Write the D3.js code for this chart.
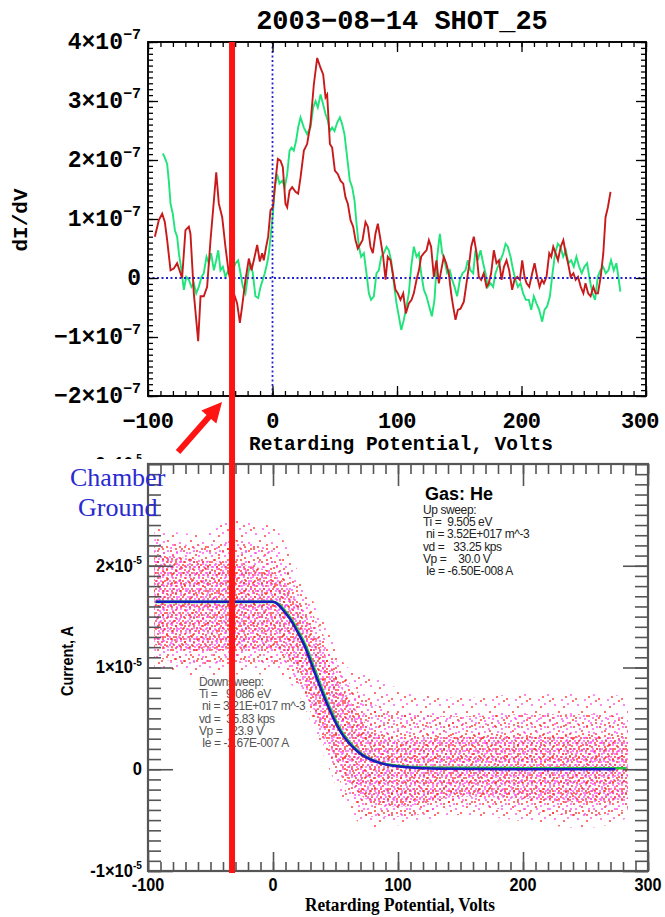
<!DOCTYPE html>
<html>
<head>
<meta charset="utf-8">
<script src="https://cdn.jsdelivr.net/npm/d3@7"></script>
<style>
  body { margin: 0; background: #fff; }
  text { white-space: pre; }
</style>
</head>
<body>
<div class="chart"></div>
<script>
var svgWidth = 665;
var svgHeight = 917;

// ---- top panel: dI/dV (units of 1e-7) vs retarding potential (V) ----
var redTrace = [
  [-94.5,0.70],[-91.3,0.98],[-88.6,1.09],[-86.5,0.95],[-84.6,0.64],[-81.9,0.13],[-79.3,0.16],[-76.6,0.25],
  [-73.9,0.08],[-72.6,0.0],[-69.9,0.81],[-67.2,0.87],[-65.9,0.75],[-63.2,-0.26],[-59.7,-1.07],[-57.8,-0.31],
  [-55.2,-0.31],[-52.5,-0.15],[-49.8,0.64],[-47.1,1.31],[-45.2,1.79],[-43.1,1.26],[-40.4,1.03],[-37.8,0.53],
  [-35.1,0.08],[-31.1,-0.26],[-28.4,-0.43],[-26.2,-0.76],[-24.4,-0.48],[-21.7,-0.03],[-19.0,0.33],[-16.9,0.13],
  [-15.0,0.30],[-12.3,0.56],[-10.2,0.28],[-8.3,0.42],[-7.0,0.30],[-5.1,0.53],[-3.5,0.70],[-1.6,1.15],
  [0.3,1.20],[2.4,1.65],[4.3,2.02],[6.4,1.99],[8.3,1.88],[10.4,1.26],[11.8,1.20],[13.7,1.48],
  [15.8,1.54],[18.5,1.46],[20.6,1.43],[22.5,1.70],[25.2,2.16],[27.8,2.27],[30.5,2.61],[33.2,3.28],
  [35.9,3.73],[38.6,3.56],[40.7,3.45],[42.6,3.06],[43.9,3.11],[46.1,2.27],[47.9,2.21],[50.1,1.82],
  [52.5,1.76],[54.6,1.65],[56.8,1.60],[58.6,1.37],[60.5,1.26],[62.7,0.98],[64.8,0.87],[66.7,0.64],
  [68.5,0.50],[70.1,0.56],[72.3,0.64],[74.7,0.95],[76.6,0.87],[78.7,0.53],[80.6,0.42],[82.7,0.75],
  [84.6,0.92],[86.8,0.64],[88.9,0.36],[90.8,-0.03],[92.6,0.36],[94.8,0.30],[96.6,0.08],[98.8,-0.20],
  [100.7,-0.26],[102.8,-0.37],[105.0,-0.26],[107.1,-0.60],[109.5,-0.43],[111.7,-0.37],[113.5,-0.26],[115.7,-0.03],
  [117.6,0.13],[119.4,0.36],[121.6,0.42],[123.7,0.47],[125.6,0.64],[127.4,0.53],[129.6,0.02],[131.7,0.30],
  [133.6,-0.09],[135.5,0.13],[137.6,0.36],[139.5,0.25],[141.6,0.08],[143.5,-0.26],[145.1,-0.48],[147.0,-0.71],
  [148.9,-0.54],[151.0,-0.52],[153.7,-0.40],[155.8,-0.09],[157.7,0.19],[159.6,0.53],[161.7,0.70],[163.9,0.42],
  [165.7,0.02],[167.6,-0.03],[169.7,0.08],[171.9,-0.15],[173.7,-0.09],[175.6,0.08],[177.8,0.47],[179.9,0.25],
  [181.9,0.30],[184.0,-0.03],[185.9,0.19],[188.0,0.30],[190.1,0.13],[192.5,-0.20],[194.4,-0.03],[196.6,0.02],
  [198.7,-0.03],[200.6,0.30],[202.4,0.02],[204.1,-0.09],[206.2,-0.15],[208.6,0.08],[210.5,0.25],[212.6,0.02],
  [214.5,-0.15],[216.4,-0.03],[218.0,-0.09],[220.1,0.02],[222.3,0.42],[223.9,0.36],[225.5,0.53],[227.4,0.42],
  [229.3,0.30],[231.5,0.53],[233.6,0.64],[235.5,0.42],[237.4,0.25],[239.5,0.02],[241.7,0.08],[243.5,-0.03],
  [245.4,0.02],[247.6,-0.15],[249.7,-0.26],[251.4,-0.09],[253.5,-0.26],[255.5,-0.31],[257.7,-0.15],[259.5,-0.26],
  [261.4,-0.26],[263.6,0.02],[265.7,0.42],[267.5,1.03],[269.4,1.20],[271.5,1.46]
];

var greenTrace = [
  [-88.1,2.11],[-86.5,2.04],[-84.6,1.93],[-83.3,1.65],[-81.9,1.26],[-80.1,1.09],[-78.4,0.81],[-76.6,0.70],
  [-75.2,0.42],[-73.1,0.13],[-71.2,-0.20],[-69.3,0.02],[-67.2,-0.03],[-65.1,-0.15],[-63.2,-0.09],[-61.3,-0.26],
  [-59.2,-0.15],[-57.0,0.02],[-55.2,0.08],[-53.0,0.36],[-51.1,0.25],[-49.3,0.42],[-47.1,0.13],[-45.2,0.30],
  [-43.6,0.47],[-41.8,0.13],[-39.9,0.19],[-37.8,0.02],[-35.6,0.13],[-32.9,0.08],[-29.7,0.25],[-27.6,0.30],
  [-25.7,0.08],[-23.8,-0.15],[-21.7,-0.26],[-19.5,0.08],[-17.7,0.25],[-15.8,0.08],[-13.7,-0.31],[-11.5,-0.34],
  [-9.6,-0.15],[-7.8,-0.03],[-6.2,0.08],[-4.3,0.25],[-2.9,0.42],[-1.3,0.75],[0.3,1.09],[1.9,1.54],
  [3.7,1.76],[5.6,1.60],[7.8,1.65],[9.9,1.54],[11.8,1.76],[13.7,2.16],[15.3,2.21],[17.1,2.16],
  [19.0,2.33],[20.6,2.55],[22.5,2.72],[25.2,2.55],[27.8,2.44],[30.5,2.55],[32.7,2.89],[34.6,3.00],
  [36.4,2.89],[38.6,3.11],[40.7,2.94],[42.6,2.78],[44.5,2.66],[46.1,2.49],[47.9,2.55],[49.8,2.49],
  [51.9,2.63],[54.1,2.72],[55.9,2.61],[57.8,2.44],[60.0,2.04],[62.1,1.65],[64.0,1.54],[65.9,1.31],
  [67.5,0.92],[69.4,0.53],[71.2,0.36],[73.4,0.42],[75.5,0.08],[77.4,-0.26],[79.2,-0.37],[81.4,-0.31],
  [83.5,0.08],[85.4,0.13],[87.3,0.36],[89.4,0.42],[91.6,0.53],[93.4,0.47],[95.3,0.30],[97.5,-0.09],
  [99.6,-0.43],[101.5,-0.65],[103.4,-0.88],[105.5,-0.71],[107.6,-0.48],[109.5,-0.26],[111.4,0.19],[113.5,0.53],
  [115.7,0.36],[117.6,0.42],[119.4,0.08],[121.6,-0.20],[123.7,-0.31],[125.8,-0.48],[128.0,-0.65],[130.1,-0.37],
  [132.3,0.36],[134.4,0.75],[136.3,0.42],[138.2,0.30],[140.3,0.08],[142.4,0.13],[144.3,-0.03],[146.2,-0.15],
  [148.3,-0.31],[150.5,-0.03],[152.6,0.08],[155.0,0.13],[156.9,0.30],[159.0,0.13],[161.2,0.08],[163.0,0.47],
  [164.9,0.30],[167.1,0.47],[169.2,0.25],[171.1,0.08],[172.9,-0.15],[175.1,-0.09],[177.2,-0.15],[179.1,0.08],
  [181.0,0.19],[183.1,0.30],[185.3,0.42],[187.2,0.58],[189.0,0.53],[191.2,0.36],[193.3,0.13],[195.2,-0.03],
  [197.1,-0.15],[199.2,-0.09],[201.3,-0.26],[203.5,-0.37],[205.9,-0.37],[207.8,-0.54],[209.9,-0.31],[212.0,-0.43],
  [214.2,-0.54],[216.6,-0.74],[218.5,-0.54],[220.6,-0.48],[222.8,-0.31],[224.9,0.08],[227.0,0.42],[229.2,0.58],
  [231.3,0.53],[233.5,0.36],[235.6,0.47],[237.7,0.25],[239.9,0.30],[242.0,0.19],[244.1,0.36],[246.3,0.19],
  [248.4,0.08],[250.5,0.19],[252.7,0.25],[254.8,-0.03],[257.0,-0.26],[259.1,-0.37],[261.3,0.02],[263.4,0.13],
  [265.6,0.19],[267.7,0.08],[269.8,0.13],[271.9,0.30],[274.1,0.13],[276.2,0.25],[277.8,0.02],[279.4,-0.23]
];

var topXTicks = [-100, 0, 100, 200, 300];
var topYTicks = [-2, -1, 0, 1, 2, 3, 4];

// ---- bottom panel: current (units of 1e-5 A) vs retarding potential ----
// fitted I-V curves (blue = up sweep fit, green = down sweep fit)
var blueFitV = [-94, 0, 4, 9, 14, 20, 25, 33, 44, 54, 68, 86, 107, 134, 200, 274];
var blueFitI = [1.645, 1.645, 1.62, 1.55, 1.47, 1.34, 1.22, 0.96, 0.62, 0.37, 0.17, 0.06, 0.02, 0.005, 0, 0];
var greenFitV = [-94, 0, 5, 10, 15, 21, 26, 34, 45, 55, 69, 87, 108, 135, 200, 283];
var greenFitI = [1.645, 1.645, 1.62, 1.55, 1.47, 1.34, 1.22, 0.96, 0.62, 0.37, 0.17, 0.06, 0.025, 0.015, 0.01, 0.01];

// envelope of the raw sample cloud: outer sparse edge, middle, dense core
var cloudV = [-95, -60, -30, 0, 20, 40, 60, 80, 100, 150, 200, 250, 284];
var outerHi = [2.37, 2.31, 2.45, 2.38, 1.95, 1.46, 1.00, 0.90, 0.80, 0.70, 0.74, 0.74, 0.72];
var outerLo = [1.00, 0.92, 0.93, 0.93, 0.74, 0.15, -0.40, -0.58, -0.55, -0.45, -0.51, -0.58, -0.48];
var midHi = [2.27, 2.20, 2.25, 2.15, 1.80, 1.33, 0.87, 0.65, 0.55, 0.52, 0.54, 0.54, 0.51];
var midLo = [1.10, 1.03, 1.05, 1.05, 0.84, 0.25, -0.26, -0.47, -0.47, -0.37, -0.41, -0.46, -0.40];
var coreHi = [2.12, 2.06, 2.02, 1.93, 1.63, 1.17, 0.70, 0.38, 0.28, 0.32, 0.32, 0.32, 0.28];
var coreLo = [1.22, 1.16, 1.18, 1.18, 0.96, 0.36, -0.10, -0.33, -0.37, -0.27, -0.29, -0.33, -0.29];

var botXTicks = [-100, 0, 100, 200, 300];
var botYTicks = [-1, 0, 1, 2, 3];

var upSweep = ["Up sweep:", "Ti =  9.505 eV", " ni = 3.52E+017 m^-3", "vd =   33.25 kps", "Vp =    30.0 V", " Ie = -6.50E-008 A"];
var downSweep = ["Downsweep:", "Ti =   9.086 eV", " ni = 3.21E+017 m^-3", "vd =  35.83 kps", "Vp =   23.9 V", " Ie = -2.67E-007 A"];

var markerV = -32.5;   // red vertical marker

var svg = d3.select(".chart")
  .append("svg")
  .attr("width", svgWidth)
  .attr("height", svgHeight);

var defs = svg.append("defs");

// dot textures for the sample cloud (0 = red, 1 = magenta)
function dotPattern(id, w, h, dots) {
  var p = defs.append("pattern").attr("id", id)
    .attr("patternUnits", "userSpaceOnUse").attr("width", w).attr("height", h);
  dots.forEach(function(d) {
    p.append("circle").attr("cx", d[0]).attr("cy", d[1]).attr("r", 0.95)
      .attr("fill", d[2] ? "#ff3cf0" : "#ff1e1e").attr("opacity", 0.9);
  });
}
dotPattern("sparseDots", 23, 19, [[3,2,1],[12,4,0],[19,11,1],[7,9,0],[1,15,0],[16,1,1],[10,16,1],[21,17,0],[14,13,0]]);
dotPattern("midDots", 13, 11, [[2,1,0],[8,3,1],[11,8,0],[4,6,1],[7,10,0],[12,1,1]]);
dotPattern("coreDots", 9, 8, [[1,1,1],[5,2,0],[8,5,1],[3,5,0],[6,7,1],[1,7,0]]);

var xTop = d3.scaleLinear().domain([-100, 300]).range([148, 646]);
var yTop = d3.scaleLinear().domain([-2, 4]).range([396, 42]);
var xBot = d3.scaleLinear().domain([-100, 300]).range([148, 648]);
var yBot = d3.scaleLinear().domain([-1, 3]).range([871, 464]);

// draw inward ticks on all four sides with d3 axes
function frameTicks(g, xs, ys, x0, x1, y0, y1, xv, xm, yv, ym, len, color, sw) {
  var specs = [
    [d3.axisBottom(xs), `translate(0,${y1})`, xv, len.bMaj], [d3.axisBottom(xs), `translate(0,${y1})`, xm, len.bMin],
    [d3.axisTop(xs), `translate(0,${y0})`, xv, len.tMaj], [d3.axisTop(xs), `translate(0,${y0})`, xm, len.tMin],
    [d3.axisLeft(ys), `translate(${x0},0)`, yv, len.lMaj], [d3.axisLeft(ys), `translate(${x0},0)`, ym, len.lMin],
    [d3.axisRight(ys), `translate(${x1},0)`, yv, len.lMaj], [d3.axisRight(ys), `translate(${x1},0)`, ym, len.lMin]
  ];
  specs.forEach(function(s) {
    var a = g.append("g").attr("transform", s[1])
      .call(s[0].tickValues(s[2]).tickSize(-s[3]).tickFormat(""));
    a.select(".domain").remove();
    a.selectAll("line").attr("stroke", color).attr("stroke-width", sw);
  });
  g.append("rect").attr("x", x0).attr("y", y0).attr("width", x1 - x0).attr("height", y1 - y0)
    .attr("fill", "none").attr("stroke", color).attr("stroke-width", sw + 0.6);
}

// label like 2×10^-7
function sciLabel(g, x, y, v, exp, minus, f) {
  var t = g.append("text").attr("x", x).attr("y", y).attr("text-anchor", "end")
    .attr("font-family", f.family).attr("font-weight", "bold").attr("font-size", f.size).attr("fill", "#000");
  if (v === 0) { t.text("0"); return t; }
  t.append("tspan").text((v < 0 ? minus : "") + Math.abs(v) + "×10");
  t.append("tspan").attr("dy", -f.size * 0.42).attr("font-size", f.sup).text(minus + exp);
  return t;
}

// ================= TOP PANEL =================
var topPanel = svg.append("g");

var lineTop = d3.line().x(d => xTop(d[0])).y(d => yTop(d[1]));

topPanel.append("path").datum(greenTrace).attr("d", lineTop)
  .attr("fill", "none").attr("stroke", "#1ee47a").attr("stroke-width", 1.9);
topPanel.append("path").datum(redTrace).attr("d", lineTop)
  .attr("fill", "none").attr("stroke", "#c81a1a").attr("stroke-width", 1.9);

// dotted zero lines
topPanel.append("line").attr("x1", xTop(-100)).attr("x2", xTop(300)).attr("y1", yTop(0)).attr("y2", yTop(0))
  .attr("stroke", "#2222d0").attr("stroke-width", 1.8).attr("stroke-dasharray", "2,2.5");
topPanel.append("line").attr("x1", xTop(0)).attr("x2", xTop(0)).attr("y1", yTop(4)).attr("y2", yTop(-2))
  .attr("stroke", "#2222d0").attr("stroke-width", 1.8).attr("stroke-dasharray", "2,2.5");

frameTicks(topPanel, xTop, yTop, 148, 646, 42, 396,
  topXTicks, d3.range(-10, 31).map(d => d * 10),
  topYTicks, d3.range(-20, 41).map(d => d / 10),
  {bMaj: 10, bMin: 5, tMaj: 10, tMin: 5, lMaj: 10, lMin: 5}, "#000", 1.3);

var monoFont = {family: "'Liberation Mono', 'DejaVu Sans Mono', monospace", size: 23, sup: 15};
topYTicks.forEach(function(v) {
  sciLabel(topPanel, 141, yTop(v) + 7, v, "7", "\u2212", monoFont);
});
topXTicks.forEach(function(v) {
  var x = Math.min(xTop(v), 640);
  topPanel.append("text").attr("x", x).attr("y", 428).attr("text-anchor", "middle")
    .attr("font-family", monoFont.family).attr("font-weight", "bold").attr("font-size", 22)
    .attr("letter-spacing", -0.5)
    .text(v < 0 ? "\u2212" + Math.abs(v) : v);
});

topPanel.append("text").attr("x", 402).attr("y", 29).attr("text-anchor", "middle")
  .attr("font-family", monoFont.family).attr("font-weight", "bold").attr("font-size", 27)
  .text("2003\u221208\u221214 SHOT_25");

topPanel.append("text").attr("x", 401).attr("y", 450).attr("text-anchor", "middle")
  .attr("font-family", monoFont.family).attr("font-weight", "bold").attr("font-size", 20)
  .attr("textLength", 304).attr("lengthAdjust", "spacingAndGlyphs")
  .text("Retarding Potential, Volts");

topPanel.append("text").attr("transform", "translate(27,220) rotate(-90)").attr("text-anchor", "middle")
  .attr("font-family", monoFont.family).attr("font-weight", "bold").attr("font-size", 21)
  .text("dI/dV");

// ================= BOTTOM PANEL =================
var botPanel = svg.append("g");

var band = function(hi, lo) {
  return d3.area().curve(d3.curveMonotoneX)
    .x((d, i) => xBot(cloudV[i])).y0((d, i) => yBot(lo[i])).y1((d, i) => yBot(hi[i]))(cloudV);
};
botPanel.append("path").attr("d", band(outerHi, outerLo)).attr("fill", "url(#sparseDots)");
botPanel.append("path").attr("d", band(midHi, midLo)).attr("fill", "url(#midDots)");
botPanel.append("path").attr("d", band(coreHi, coreLo)).attr("fill", "url(#coreDots)");

var fitLine = function(vs, is) {
  return d3.line().curve(d3.curveMonotoneX).x((d, i) => xBot(vs[i])).y((d, i) => yBot(is[i]))(vs);
};
botPanel.append("path").attr("d", fitLine(greenFitV, greenFitI)).attr("fill", "none")
  .attr("stroke", "#22c83c").attr("stroke-width", 2.6);
botPanel.append("path").attr("d", fitLine(blueFitV, blueFitI)).attr("fill", "none")
  .attr("stroke", "#1a1abe").attr("stroke-width", 2.5);

frameTicks(botPanel, xBot, yBot, 148, 648, 464, 871,
  botXTicks, d3.range(-10, 31).map(d => d * 10),
  botYTicks, d3.range(-10, 31).map(d => d / 10),
  {bMaj: 19, bMin: 9, tMaj: 22, tMin: 10, lMaj: 25, lMin: 13}, "#555", 1.6);

var sansFont = {family: "'Liberation Sans', Arial, sans-serif", size: 18, sup: 11};
botYTicks.forEach(function(v) {
  sciLabel(botPanel, 142, yBot(v) + 6, v, "5", "-", sansFont)
    .attr("transform", `translate(142,0) scale(0.92,1) translate(-142,0)`);
});

// white backing of the "Chamber Ground" note hides most of the top tick label
botPanel.append("rect").attr("x", 62).attr("y", 459).attr("width", 84).attr("height", 62).attr("fill", "#fff");
botPanel.append("text").attr("x", 70).attr("y", 486)
  .attr("font-family", "'Liberation Serif', 'DejaVu Serif', serif").attr("font-size", 26).attr("fill", "#2a2ad0")
  .text("Chamber");
botPanel.append("text").attr("x", 78).attr("y", 516)
  .attr("font-family", "'Liberation Serif', 'DejaVu Serif', serif").attr("font-size", 26).attr("fill", "#2a2ad0")
  .text("Ground");

botXTicks.forEach(function(v) {
  botPanel.append("text").attr("x", xBot(v)).attr("y", 891).attr("text-anchor", "middle")
    .attr("font-family", sansFont.family).attr("font-weight", "bold").attr("font-size", 18)
    .attr("transform", `translate(${xBot(v)},0) scale(0.9,1) translate(${-xBot(v)},0)`)
    .text(v);
});

botPanel.append("text").attr("x", 400).attr("y", 911).attr("text-anchor", "middle")
  .attr("font-family", "'Liberation Serif', 'Times New Roman', serif").attr("font-weight", "bold").attr("font-size", 18)
  .attr("textLength", 190).attr("lengthAdjust", "spacingAndGlyphs")
  .text("Retarding Potential, Volts");

botPanel.append("text").attr("transform", "translate(73,661) rotate(-90)").attr("text-anchor", "middle")
  .attr("font-family", sansFont.family).attr("font-weight", "bold").attr("font-size", 16)
  .attr("textLength", 70).attr("lengthAdjust", "spacingAndGlyphs")
  .text("Current, A");

// fit parameter notes
botPanel.append("text").attr("x", 425).attr("y", 500)
  .attr("font-family", sansFont.family).attr("font-weight", "bold").attr("font-size", 18)
  .text("Gas: He");
upSweep.forEach(function(s, i) {
  botPanel.append("text").attr("x", 423).attr("y", 514 + i * 12.2)
    .attr("font-family", sansFont.family).attr("font-size", 12).attr("fill", "#222")
    .attr("letter-spacing", -0.4).text(s);
});
downSweep.forEach(function(s, i) {
  botPanel.append("text").attr("x", 199).attr("y", 686 + i * 12.2)
    .attr("font-family", sansFont.family).attr("font-size", 12).attr("fill", "#555")
    .attr("letter-spacing", -0.4).text(s);
});

// ================= MARKER =================
var mx = xTop(markerV);
svg.append("rect").attr("x", mx - 3).attr("y", yTop(4)).attr("width", 6)
  .attr("height", yBot(-1) + 2 - yTop(4)).attr("fill", "#ff1414");

// arrow pointing at the marker below the top panel
var tip = [mx - 10, yTop(-2) + 6], tail = [mx - 54, yTop(-2) + 56];
var dx = tip[0] - tail[0], dy = tip[1] - tail[1], L = Math.hypot(dx, dy);
var ux = dx / L, uy = dy / L, nx = -uy, ny = ux;
var base = [tip[0] - 20 * ux, tip[1] - 20 * uy];
var pts = [
  [tail[0] + 3 * nx, tail[1] + 3 * ny], [base[0] + 3 * nx, base[1] + 3 * ny],
  [base[0] + 10 * nx, base[1] + 10 * ny], tip,
  [base[0] - 10 * nx, base[1] - 10 * ny], [base[0] - 3 * nx, base[1] - 3 * ny],
  [tail[0] - 3 * nx, tail[1] - 3 * ny]
];
svg.append("path").attr("d", "M" + pts.map(p => p.join(",")).join("L") + "Z").attr("fill", "#ff1414");
</script>
</body>
</html>
